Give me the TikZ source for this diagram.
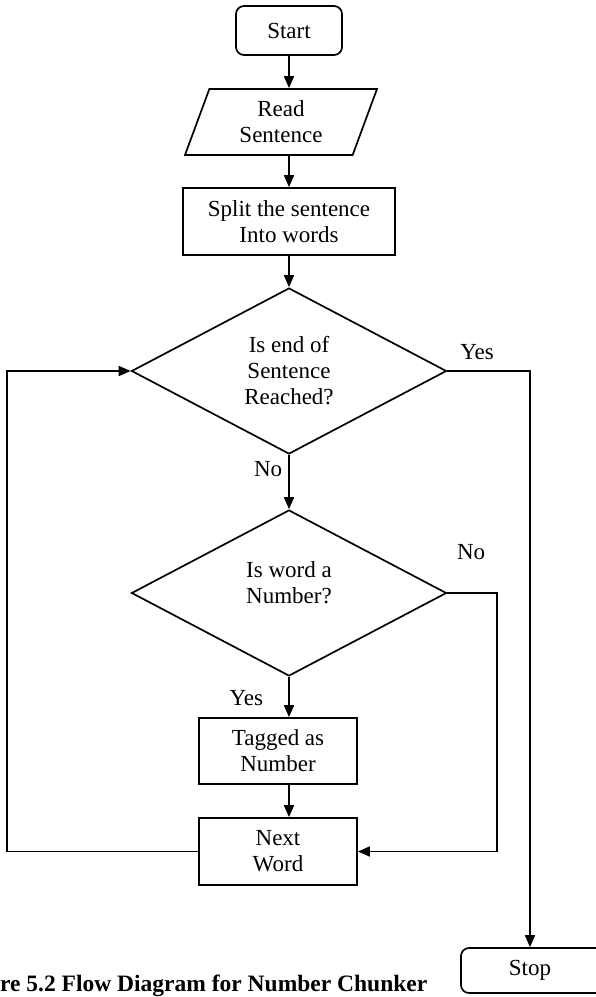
\documentclass[tikz,border=0pt]{standalone}
\usepackage{fontspec}
\setmainfont{Liberation Serif}
\usetikzlibrary{shapes.geometric,arrows.meta}
\begin{document}
\begin{tikzpicture}[x=1pt,y=-1pt,
  every node/.style={font=\fontsize{23}{26}\selectfont, align=center},
  wire/.style={line width=1.7pt},
  arr/.style={wire, -{Triangle[length=12pt,width=10pt]}},
  terminal/.style={draw, wire, rounded corners=8pt, minimum width=106pt, minimum height=49pt, inner sep=0pt},
  process/.style={draw, wire, minimum height=66pt, inner sep=0pt},
  io/.style={draw, wire, trapezium, trapezium left angle=60, trapezium right angle=120,
    trapezium stretches body, minimum width=192pt, minimum height=66pt, inner sep=0pt},
  decision/.style={draw, wire, diamond, minimum width=315pt, minimum height=166pt, inner sep=0pt},
  lbl/.style={inner sep=0pt}
]
\useasboundingbox (0,0) rectangle (596,997);

% main column
\node[terminal] (start) at (289,30.5) {Start};
\node[io] (read) at (281,122) {Read\\Sentence};
\node[process, minimum width=212pt, minimum height=67pt] (split) at (289,221.5) {Split the sentence\\Into words};
\node[decision] (d1) at (289,371) {Is end of\\Sentence\\Reached?};
\node[decision] (d2) at (289,593) {};
\node (d2text) at (289,583) {Is word a\\Number?};
\node[process, minimum width=158pt] (tagged) at (278,751) {Tagged as\\Number};
\node[process, minimum width=158pt, minimum height=67pt] (next) at (278,851.5) {Next\\Word};
% the stop box runs past the right edge of the page
\node[terminal, minimum width=158pt, minimum height=45pt] (stop) at (540,970.5) {\hspace*{-20pt}Stop};

% routing columns
\coordinate (loopL) at (7,0);
\coordinate (noR) at (497,0);

% connectors
\draw[arr] (start) -- (read.north -| start);
\draw[arr] (read.south -| split) -- (split);
\draw[arr] (split) -- (d1);
\draw[arr] (d1) -- node[lbl, pos=0.27, left=6pt] {No} (d2);
\draw[arr] (d2) -- node[lbl, pos=0.52, left=25pt] {Yes} (tagged.north -| d2);
\draw[arr] (tagged.south -| d2) -- (next.north -| d2);
\draw[arr] (d1.east) -| node[lbl, pos=0.18, above=10pt] {Yes} ([xshift=-10pt]stop.north);
\draw[arr] (d2.east) -- node[lbl, pos=0.48, above=32pt] {No} (d2.east -| noR) |- (next);
\draw[arr] (next.west) -- (next.west -| loopL) |- (d1.west);

% caption
\node[font=\bfseries\fontsize{23.5}{28}\selectfont, anchor=base west, inner sep=0pt] (caption) at (0,991) {re 5.2 Flow Diagram for Number Chunker};
\end{tikzpicture}
\end{document}
